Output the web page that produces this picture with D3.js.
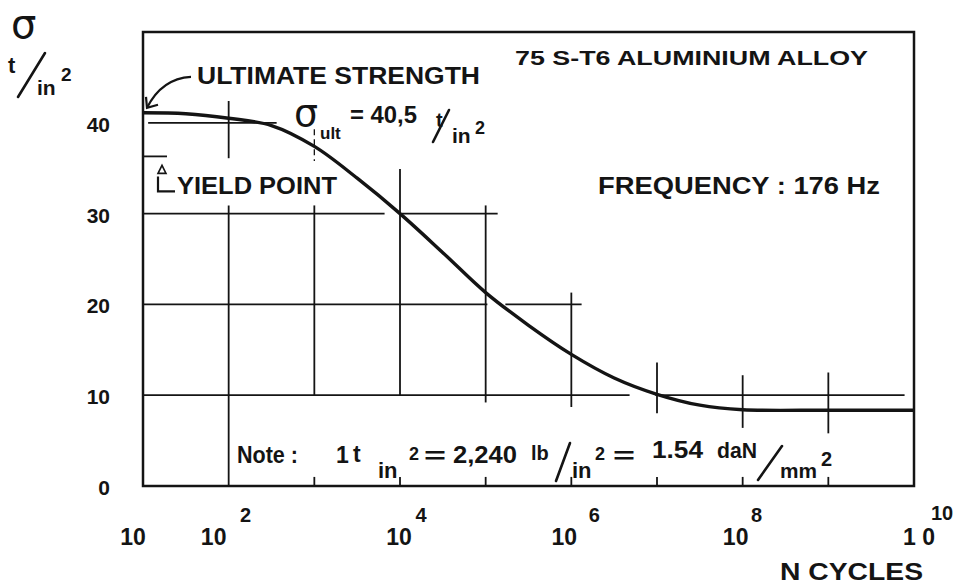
<!DOCTYPE html>
<html>
<head>
<meta charset="utf-8">
<script src="https://cdn.jsdelivr.net/npm/d3@7"></script>
<style>
  html, body { margin: 0; padding: 0; background: #fff; }
  svg { display: block; }
  text { font-family: "Liberation Sans", Arial, sans-serif; font-weight: bold; fill: #141414; }
</style>
</head>
<body>
<svg width="957" height="587"></svg>
<script>
// S-N curve, 75 S-T6 aluminium alloy

// curve: log10 of cycles and stress (t/in2)
var cycleExp = [1, 1.5, 2, 2.5, 3, 3.5, 4, 4.5, 5, 5.5, 6, 6.5, 7, 7.5, 8, 9, 10];
var sigmaVals = [41.1, 41.0, 40.5, 39.7, 37.4, 33.9, 30.0, 25.7, 21.3, 17.7, 14.5, 11.9, 10.1, 8.9, 8.4, 8.35, 8.35];

// axis ticks
var xTickExps = [1, 2, 4, 6, 8, 10];
var xTickBase = ['10', '10', '10', '10', '10', '1 0'];
var xTickSup = ['', '2', '4', '6', '8', '10'];
var yTicks = [0, 10, 20, 30, 40];
var yTickLabels = ['0', '10', '20', '30', '40'];

// drawn grid pieces: [stress, fromExp, toExp] and [exp, fromStress, toStress]
var gridH = [[40, 1.06, 2.56], [30, 1, 3.82], [30, 4.02, 5.14], [20, 1, 5.02], [20, 5.23, 6.12], [10, 1, 6.68], [10, 6.98, 9.89]];
var gridV = [[2, 42.4, 36.1], [2, 30.9, 0], [3, 30.9, 10], [4, 34.9, 10], [5, 30.9, 9.2], [6, 21.3, 8.7], [7, 13.6, 8.0], [8, 12.2, 6.4], [9, 12.5, 5.8]];
var gridVDashed = [[3, 39.3, 35.8]];
var bottomTicks = [3, 4, 5, 6, 7, 8, 9];
var yieldStress = 36.3;

var svg = d3.select('svg');
var x = d3.scaleLog().domain([1e1, 1e10]).range([143, 914]);
var y = d3.scaleLinear().domain([0, 50]).range([486, 32]);
var ink = '#141414';
var p10 = function (e) { return Math.pow(10, e); };

// frame
svg.append('rect')
  .attr('x', x(1e1)).attr('y', y(50))
  .attr('width', x(1e10) - x(1e1)).attr('height', y(0) - y(50))
  .attr('fill', 'none').attr('stroke', ink).attr('stroke-width', 2.5);

var g = svg.append('g').attr('stroke', ink).attr('stroke-width', 1.8);

g.selectAll('line.h').data(gridH).enter().append('line')
  .attr('x1', function (d) { return x(p10(d[1])); })
  .attr('x2', function (d) { return x(p10(d[2])); })
  .attr('y1', function (d) { return y(d[0]); })
  .attr('y2', function (d) { return y(d[0]); });

g.selectAll('line.v').data(gridV).enter().append('line')
  .attr('x1', function (d) { return x(p10(d[0])); })
  .attr('x2', function (d) { return x(p10(d[0])); })
  .attr('y1', function (d) { return y(d[1]); })
  .attr('y2', function (d) { return y(d[2]); });

g.selectAll('line.vd').data(gridVDashed).enter().append('line')
  .attr('stroke-dasharray', '6,4').attr('stroke-width', 1.3)
  .attr('x1', function (d) { return x(p10(d[0])); })
  .attr('x2', function (d) { return x(p10(d[0])); })
  .attr('y1', function (d) { return y(d[1]); })
  .attr('y2', function (d) { return y(d[2]); });

g.selectAll('line.bt').data(bottomTicks).enter().append('line')
  .attr('x1', function (d) { return x(p10(d)); })
  .attr('x2', function (d) { return x(p10(d)); })
  .attr('y1', y(0)).attr('y2', y(1));

// yield point marker
g.append('line')
  .attr('x1', x(1e1)).attr('x2', x(p10(1.28)))
  .attr('y1', y(yieldStress)).attr('y2', y(yieldStress));

// S-N curve
var line = d3.line()
  .x(function (d) { return x(p10(d[0])); })
  .y(function (d) { return y(d[1]); })
  .curve(d3.curveCatmullRom.alpha(0.5));

svg.append('path')
  .datum(d3.zip(cycleExp, sigmaVals))
  .attr('d', line)
  .attr('fill', 'none').attr('stroke', ink).attr('stroke-width', 3.4);

// y tick labels
svg.selectAll('text.yt').data(yTicks).enter().append('text')
  .attr('x', 110).attr('y', function (d) { return y(d) + 9; })
  .attr('text-anchor', 'end').attr('font-size', 21)
  .text(function (d, i) { return yTickLabels[i]; });

// x tick labels
var baseShift = [-10, -15, -1, -7, -7, 5];
var supShift = [0, 17, 21, 23, 14, 28];
xTickExps.forEach(function (e, i) {
  svg.append('text')
    .attr('x', x(p10(e)) + baseShift[i]).attr('y', 545)
    .attr('text-anchor', 'middle').attr('font-size', 23)
    .text(xTickBase[i]);
  if (xTickSup[i]) {
    svg.append('text')
      .attr('x', x(p10(e)) + supShift[i]).attr('y', i === 5 ? 520 : 522)
      .attr('text-anchor', 'middle').attr('font-size', 20)
      .text(xTickSup[i]);
  }
});

function txt(s, tx, ty, size, len) {
  var t = svg.append('text').attr('x', tx).attr('y', ty).attr('font-size', size).text(s);
  if (len) t.attr('textLength', len).attr('lengthAdjust', 'spacingAndGlyphs');
  return t;
}
function slash(x1, y1, x2, y2) {
  svg.append('line').attr('x1', x1).attr('y1', y1).attr('x2', x2).attr('y2', y2)
    .attr('stroke', ink).attr('stroke-width', 2.6).attr('stroke-linecap', 'round');
}

// axis titles
txt('σ', 11, 38, 40).style('font-family', '"DejaVu Sans", sans-serif').style('font-weight', 'normal');
txt('t', 8, 73, 22);
slash(18, 97, 45, 53);
txt('in', 37, 95, 21);
txt('2', 61, 81, 19);
txt('N  CYCLES', 780, 580, 23, 143);

// annotations
txt('ULTIMATE  STRENGTH', 197, 84, 24, 283);
txt('75 S-T6 ALUMINIUM  ALLOY', 515, 65, 21, 353);
txt('FREQUENCY : 176  Hz', 598, 194, 23, 282);
txt('YIELD  POINT', 177, 194, 24, 160);

var ax = x(1e1) + 4, ay = y(sigmaVals[0]) - 5;
svg.append('path')
  .attr('d', 'M' + (ax + 44) + ',' + (ay - 31) + ' C' + (ax + 26) + ',' + (ay - 30) + ' ' + (ax + 10) + ',' + (ay - 20) + ' ' + ax + ',' + ay)
  .attr('fill', 'none').attr('stroke', ink).attr('stroke-width', 2.2);
svg.append('path')
  .attr('d', 'M' + (ax - 1) + ',' + (ay - 11) + ' L' + ax + ',' + ay + ' L' + (ax + 11) + ',' + (ay - 3))
  .attr('fill', 'none').attr('stroke', ink).attr('stroke-width', 2.2);

// yield point bracket
var yy = y(yieldStress);
svg.append('path')
  .attr('d', 'M' + (x(1e1) + 15) + ',' + (yy + 17) + ' L' + (x(1e1) + 19) + ',' + (yy + 9) + ' L' + (x(1e1) + 23) + ',' + (yy + 17) + ' Z')
  .attr('fill', 'none').attr('stroke', ink).attr('stroke-width', 1.6);
svg.append('path')
  .attr('d', 'M' + (x(1e1) + 15) + ',' + (yy + 20) + ' V' + (yy + 35) + ' H' + (x(1e1) + 32))
  .attr('fill', 'none').attr('stroke', ink).attr('stroke-width', 2.2);

// sigma ult
txt('σ', 294, 126, 38).style('font-family', '"DejaVu Sans", sans-serif').style('font-weight', 'normal');
txt('ult', 320, 139, 17);
txt('= 40,5', 350, 123, 24, 67);
txt('t', 436, 127, 20);
slash(433, 142, 449, 110);
txt('in', 452, 143, 21);
txt('2', 475, 134, 18);

// note
txt('Note :', 237, 463, 24, 61);
txt('1', 336, 463, 23);
txt('t', 353, 462, 23);
txt('in', 378, 478, 22);
txt('2', 409, 460, 18);
txt('=', 424, 463, 22, 22);
txt('2,240', 453, 463, 23, 64);
txt('lb', 531, 460, 20);
slash(556, 481, 570, 443);
txt('in', 572, 478, 22);
txt('2', 595, 460, 18);
txt('=', 613, 463, 22, 22);
txt('1.54', 652, 458, 23, 51);
txt('daN', 717, 458, 22, 40);
slash(758, 480, 782, 446);
txt('mm', 780, 478, 21, 37);
txt('2', 821, 466, 20);
</script>
</body>
</html>
